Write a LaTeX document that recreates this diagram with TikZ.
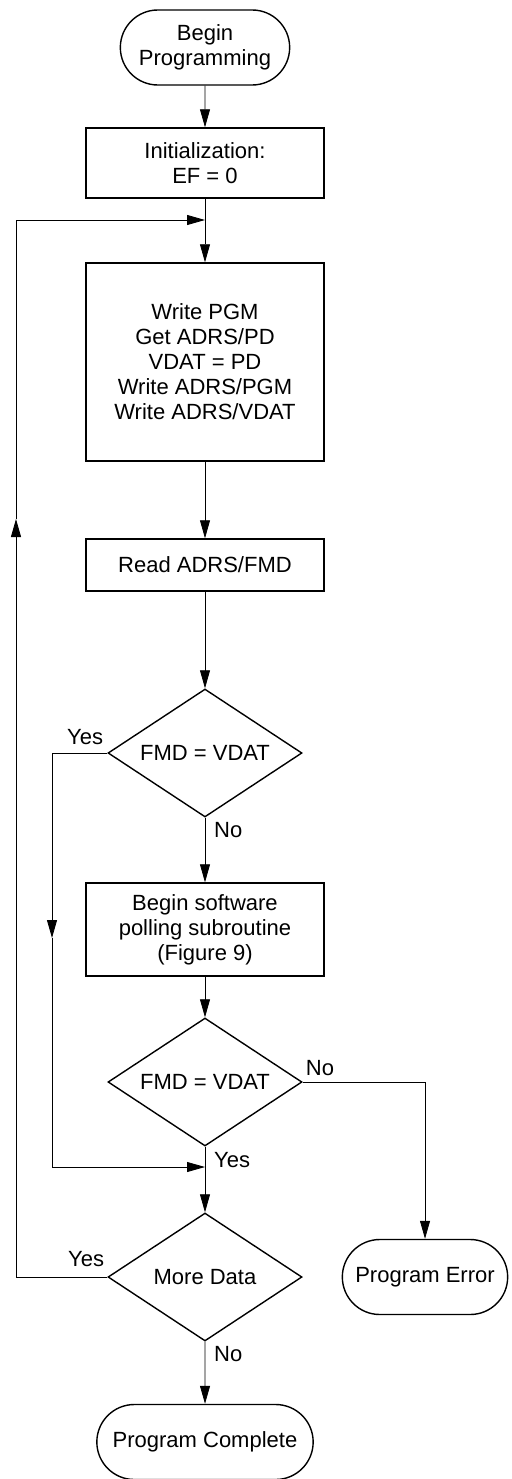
\documentclass[tikz,border=0pt]{standalone}
\usepackage{fontspec}
\setmainfont{Liberation Sans}
\usetikzlibrary{shapes.geometric,shapes.misc,arrows.meta,positioning}

\begin{document}
\begin{tikzpicture}[x=1pt,y=1pt,
    every node/.style={font=\fontsize{22}{25}\selectfont},
    term/.style={draw,line width=1.4pt,shape=rounded rectangle,minimum height=75pt,align=center},
    box/.style={draw,line width=1.4pt,shape=rectangle,minimum width=238pt,align=center},
    decide/.style={draw,line width=1.4pt,shape=diamond,aspect=1.5,inner sep=0pt,minimum width=194pt,minimum height=128pt},
    lbl/.style={inner sep=1pt},
    flow/.style={line width=0.8pt,-{Triangle[length=18pt,width=10pt]}}]
        \useasboundingbox (-205,47.5) rectangle (306,-1431.5);
        \draw (0,0) node (begin) [term,minimum width=176pt] {Begin\\Programming};
        \draw (begin)++(down:115.5pt) node (init) [box,minimum height=70pt] {Initialization:\\EF = 0};
        \draw (init)++(down:199pt) node (main) [box,minimum height=198pt] {Write PGM\\Get ADRS/PD\\VDAT = PD\\Write ADRS/PGM\\Write ADRS/VDAT};
        \draw (main)++(down:203pt) node (read) [box,minimum height=52pt] {Read ADRS/FMD};
        \draw (read)++(down:188pt) node (d1) [decide] {FMD = VDAT};
        \draw (d1)++(down:176.5pt) node (poll) [box,minimum height=93pt] {Begin software\\polling subroutine\\(Figure 9)};
        \draw (poll)++(down:152.5pt) node (d2) [decide] {FMD = VDAT};
        \draw (d2)++(down:195pt) node (d3) [decide] {More Data};
        \draw (d3)++(down:165pt) node (complete) [term,minimum width=223pt] {Program Complete};
        \draw (d3)++(right:220pt) node (error) [term,minimum width=172pt] {Program Error};
        % loop points
        \draw (init)++(down:57pt) coordinate (join);
        \draw (d2)++(down:85pt) coordinate (merge);
        \draw (begin)++(left:189pt)++(down:471.5pt) coordinate (loopUp);
        \draw (begin)++(left:153pt)++(down:890.5pt) coordinate (yesDown);
        % main flow
        \draw[flow] (begin) -- (init);
        \draw[flow] (init) -- (main);
        \draw[flow] (main) -- (read);
        \draw[flow] (read) -- (d1);
        \draw[flow] (d1) -- (poll);
        \draw[flow] (poll) -- (d2);
        \draw[flow] (d2) -- (d3);
        \draw[flow] (d3) -- (complete);
        \draw[flow] (d2.east) -| (error);
        \draw[flow] (d1.west) -| (yesDown);
        \draw[flow] (yesDown) |- (merge);
        \draw[flow] (d3.west) -| (loopUp);
        \draw[flow] (loopUp) |- (join);
        % labels
        \draw (d1.west)++(-3pt,7pt) node (yes1) [lbl,anchor=south east] {Yes};
        \draw (d1.south)++(8pt,-3pt) node (no1) [lbl,anchor=north west] {No};
        \draw (d2.east)++(2pt,5pt) node (no2) [lbl,anchor=south west] {No};
        \draw (d2.south)++(8pt,-4pt) node (yes2) [lbl,anchor=north west] {Yes};
        \draw (d3.west)++(-2pt,9pt) node (yes3) [lbl,anchor=south east] {Yes};
        \draw (d3.south)++(8pt,-3pt) node (no3) [lbl,anchor=north west] {No};
    \end{tikzpicture}
\end{document}
